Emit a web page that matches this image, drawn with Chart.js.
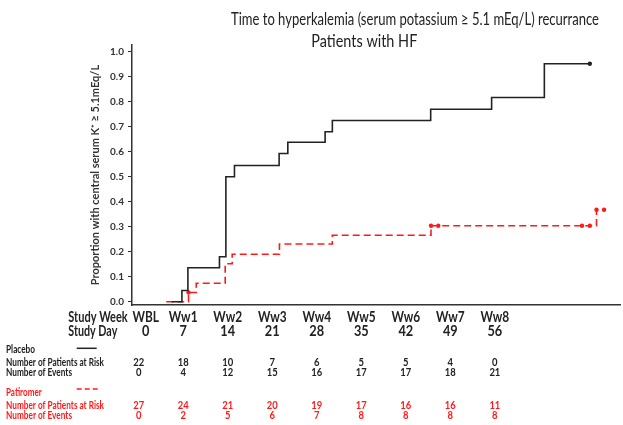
<!DOCTYPE html>
<html>
<head>
<meta charset="utf-8">
<script src="https://cdn.jsdelivr.net/npm/chart.js@4/dist/chart.umd.min.js"></script>
<style>
html,body{margin:0;padding:0;background:#ffffff;}
#wrap{width:623px;height:425px;position:relative;}
</style>
</head>
<body>
<div id="wrap"><canvas id="c" width="623" height="425"></canvas></div>
<script>
// ---------- data ----------
const titleLine1 = "Time to hyperkalemia (serum potassium \u2265 5.1 mEq/L) recurrance";
const titleLine2 = "Patients with HF";
const yAxisTitle = "Proportion with central serum K\u207A \u2265 5.1mEq/L";
const yTickValues = [0, 0.1, 0.2, 0.3, 0.4, 0.5, 0.6, 0.7, 0.8, 0.9, 1.0];

const studyWeeks = ["WBL", "Ww1", "Ww2", "Ww3", "Ww4", "Ww5", "Ww6", "Ww7", "Ww8"];
const studyDays = [0, 7, 14, 21, 28, 35, 42, 49, 56];

const placeboAtRisk = [22, 18, 10, 7, 6, 5, 5, 4, 0];
const placeboEvents = [0, 4, 12, 15, 16, 17, 17, 18, 21];
const patiromerAtRisk = [27, 24, 21, 20, 19, 17, 16, 16, 11];
const patiromerEvents = [0, 2, 5, 6, 7, 8, 8, 8, 8];

// Kaplan-Meier style step curves (time in days, cumulative proportion)
const placeboTimes = [5.2, 6.8, 7.74, 12.7, 13.71, 15.06, 22.08, 23.45, 29.31, 30.45, 45.91, 55.49, 63.78, 70.93];
const placeboProb  = [0, 0.045, 0.136, 0.18, 0.50, 0.545, 0.593, 0.638, 0.68, 0.725, 0.77, 0.817, 0.952, 0.952];
const placeboCensored = [0, 0, 0, 0, 0, 0, 0, 0, 0, 0, 0, 0, 0, 1];

const patiromerTimes = [4.33, 7.84, 9.05, 13.6, 14.7, 22.13, 30.45, 45.96, 47.1, 69.7, 70.93, 71.98, 73.17];
const patiromerProb  = [0, 0.037, 0.074, 0.152, 0.19, 0.231, 0.266, 0.304, 0.304, 0.304, 0.304, 0.368, 0.368];
const patiromerCensored = [0, 1, 0, 0, 0, 0, 0, 1, 1, 1, 1, 1, 1];

// ---------- styling ----------
const FONT = "Lato, 'Open Sans', 'Noto Sans', sans-serif";
const BLACK = "#222222";
const RED = "#ff1a1a";

function pts(times, probs) { return times.map((t, i) => ({ x: t, y: probs[i] })); }

function drawText(ctx, text, x, y, font, color, align, targetWidth, scaleX) {
  ctx.save();
  ctx.font = font;
  let sx = scaleX || 1;
  if (targetWidth) { sx = targetWidth / ctx.measureText(text).width; }
  ctx.translate(x, y);
  ctx.scale(sx, 1);
  ctx.fillStyle = color;
  ctx.textAlign = align;
  ctx.textBaseline = 'middle';
  ctx.fillText(text, 0, 0);
  ctx.restore();
}

const tablePlugin = {
  id: 'kmTable',
  afterDraw(chart) {
    const ctx = chart.ctx;
    const xs = chart.scales.x;
    // title
    drawText(ctx, titleLine1, 415, 20, "16.5px " + FONT, BLACK, 'center', 368);
    drawText(ctx, titleLine2, 364.3, 42, "16.5px " + FONT, BLACK, 'center', 106);

    // header rows
    const hf = "bold 14.5px " + FONT;
    drawText(ctx, "Study Week", 68.3, 317.3, hf, BLACK, 'left', 59.4);
    drawText(ctx, "Study Day", 68.3, 331.7, hf, BLACK, 'left', 49);
    studyDays.forEach((d, i) => {
      const px = xs.getPixelForValue(d) + (i === 0 ? 7 : 0);
      drawText(ctx, studyWeeks[i], px, 317.3, hf, BLACK, 'center', null, 0.82);
      drawText(ctx, String(d), px, 331.7, hf, BLACK, 'center', null, 0.88);
    });

    // legend + table
    const tf = "bold 10.5px " + FONT;
    drawText(ctx, "Placebo", 6, 349.3, tf, BLACK, 'left', 29);
    drawText(ctx, "Number of Patients at Risk", 6, 362.3, tf, BLACK, 'left', 98);
    drawText(ctx, "Number of Events", 6, 372.7, tf, BLACK, 'left', 66);
    drawText(ctx, "Patiromer", 6, 392.7, tf, RED, 'left', 35.7);
    drawText(ctx, "Number of Patients at Risk", 6, 406, tf, RED, 'left', 98);
    drawText(ctx, "Number of Events", 6, 415.7, tf, RED, 'left', 66);

    ctx.save();
    ctx.lineWidth = 1.5;
    ctx.strokeStyle = BLACK;
    ctx.beginPath(); ctx.moveTo(76.7, 348.3); ctx.lineTo(96.7, 348.3); ctx.stroke();
    ctx.strokeStyle = RED;
    ctx.setLineDash([5, 3]);
    ctx.beginPath(); ctx.moveTo(76.7, 389); ctx.lineTo(98, 389); ctx.stroke();
    ctx.restore();

    studyDays.forEach((d, i) => {
      const px = xs.getPixelForValue(d);
      drawText(ctx, String(placeboAtRisk[i]), px, 362.3, tf, BLACK, 'center', null, 0.9);
      drawText(ctx, String(placeboEvents[i]), px, 372.7, tf, BLACK, 'center', null, 0.9);
      drawText(ctx, String(patiromerAtRisk[i]), px, 406, tf, RED, 'center', null, 0.9);
      drawText(ctx, String(patiromerEvents[i]), px, 415.7, tf, RED, 'center', null, 0.9);
    });
  }
};

new Chart(document.getElementById('c'), {
  type: 'line',
  data: {
    datasets: [
      {
        label: 'Placebo',
        data: pts(placeboTimes, placeboProb),
        stepped: 'before',
        borderColor: BLACK,
        backgroundColor: BLACK,
        borderWidth: 1.6,
        pointRadius: placeboCensored.map(c => c ? 2.2 : 0),
        pointHoverRadius: 0,
        pointBorderWidth: 0,
        fill: false
      },
      {
        label: 'Patiromer',
        data: pts(patiromerTimes, patiromerProb),
        stepped: 'before',
        borderColor: RED,
        backgroundColor: RED,
        borderWidth: 1.6,
        borderDash: [7, 4],
        pointRadius: patiromerCensored.map(c => c ? 2.2 : 0),
        pointHoverRadius: 0,
        pointBorderWidth: 0,
        fill: false
      }
    ]
  },
  options: {
    responsive: false,
    animation: false,
    devicePixelRatio: 1,
    layout: { padding: { top: 45, bottom: 120, left: 0, right: 2 } },
    plugins: { legend: { display: false }, tooltip: { enabled: false }, title: { display: false } },
    scales: {
      x: {
        type: 'linear',
        min: -1.05,
        max: 75.8,
        ticks: { display: false },
        grid: { display: true, drawOnChartArea: false, drawTicks: false },
        border: { display: true, color: '#333333', width: 1.5 },
        afterFit(axis) { axis.height = 0; }
      },
      y: {
        type: 'linear',
        min: -0.013,
        max: 1.027,
        afterBuildTicks(axis) { axis.ticks = yTickValues.map(v => ({ value: v })); },
        afterFit(axis) { axis.width = 132; },
        ticks: {
          callback: v => Number(v).toFixed(1),
          font: { family: FONT, size: 10, weight: 'bold' },
          color: '#333333',
          padding: 4
        },
        grid: { display: true, drawOnChartArea: false, drawTicks: true, tickLength: 4, color: '#333333', lineWidth: 1 },
        border: { display: true, color: '#333333', width: 1.5 },
        title: {
          display: true,
          text: yAxisTitle,
          font: { family: FONT, size: 11, weight: 'bold' },
          color: '#333333',
          padding: { top: 89, bottom: 0 }
        }
      }
    }
  },
  plugins: [tablePlugin]
});
</script>
</body>
</html>
